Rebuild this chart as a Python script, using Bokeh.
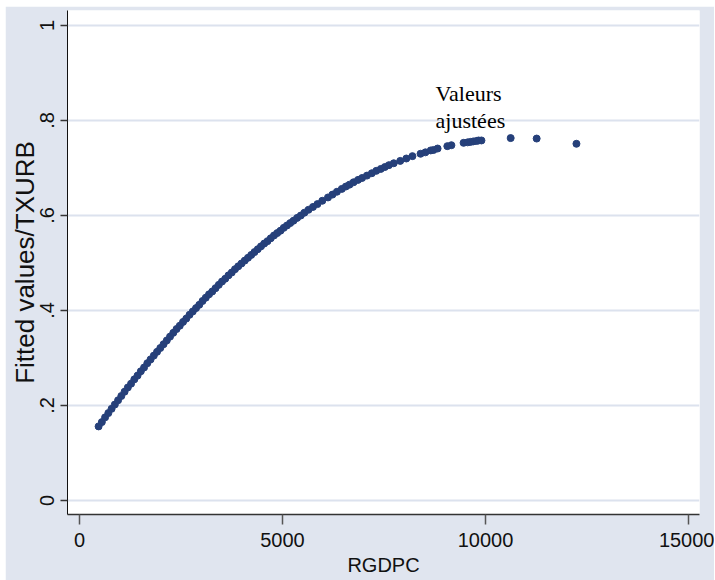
from bokeh.plotting import figure
from bokeh.models import Range1d, FixedTicker, ColumnDataSource
from bokeh.embed import file_html
from bokeh.resources import INLINE
from bokeh.core.properties import value

# ---- data ----
rgdpc = [470, 550, 630, 710, 790, 870, 950, 1030, 1110, 1190, 1270, 1350, 1430, 1510,
         1590, 1670, 1750, 1830, 1910, 1990, 2070, 2150, 2230, 2310, 2390, 2470, 2550,
         2630, 2710, 2790, 2870, 2950, 3030, 3110, 3190, 3270, 3350, 3430, 3510, 3590,
         3670, 3750, 3830, 3910, 3990, 4070, 4150, 4230, 4310, 4390, 4470, 4550, 4630,
         4710, 4790, 4870, 4950, 5030, 5110, 5190, 5270, 5360, 5450, 5540, 5640, 5750,
         5860, 5980, 6120, 6230, 6340, 6460, 6560, 6650, 6750, 6860, 6960, 7080, 7200,
         7310, 7420, 7520, 7620, 7740, 7900, 8050, 8200, 8400, 8520, 8650, 8720, 8820,
         9060, 9160, 9460, 9560, 9630, 9700, 9780, 9830, 9900, 10620, 11260, 12240]
fitted = [0.156, 0.165, 0.175, 0.184, 0.193, 0.202, 0.211, 0.220, 0.229, 0.238, 0.246,
          0.255, 0.263, 0.272, 0.280, 0.289, 0.297, 0.305, 0.313, 0.321, 0.329, 0.337,
          0.345, 0.353, 0.361, 0.368, 0.376, 0.383, 0.391, 0.398, 0.405, 0.412, 0.420,
          0.427, 0.434, 0.440, 0.447, 0.454, 0.461, 0.467, 0.474, 0.480, 0.487, 0.493,
          0.499, 0.505, 0.511, 0.517, 0.523, 0.529, 0.535, 0.541, 0.546, 0.552, 0.558,
          0.563, 0.568, 0.574, 0.579, 0.584, 0.589, 0.595, 0.600, 0.606, 0.612, 0.618,
          0.624, 0.631, 0.638, 0.644, 0.650, 0.656, 0.661, 0.665, 0.670, 0.675, 0.679,
          0.684, 0.689, 0.694, 0.698, 0.702, 0.706, 0.710, 0.715, 0.720, 0.725, 0.730,
          0.733, 0.737, 0.738, 0.741, 0.746, 0.748, 0.753, 0.754, 0.755, 0.756, 0.757,
          0.758, 0.758, 0.763, 0.762, 0.751]

x_ticks = [0, 5000, 10000, 15000]
y_ticks = [0, 0.2, 0.4, 0.6, 0.8, 1]
y_tick_labels = ["0", ".2", ".4", ".6", ".8", "1"]

note_x = [8770, 8770]
note_y = [0.857, 0.800]
note_text = ["Valeurs", "ajustées"]

x_title = "RGDPC"
y_title = "Fitted values/TXURB"

# ---- styling ----
BG = "#E0E5EF"
GRID = "#DCE2EE"
DOT = "#26407A"
SANS = "Liberation Sans"

src = ColumnDataSource(data=dict(x=rgdpc, y=fitted))

p = figure(width=709, height=574, margin=(6, 1, 0, 5),
           x_range=Range1d(-296, 15271), y_range=Range1d(-0.0295, 1.0316),
           output_backend="svg", toolbar_location=None,
           min_border_left=62, min_border_right=15, min_border_top=4, min_border_bottom=66,
           background_fill_color="white", border_fill_color=BG, outline_line_color=None)

p.scatter(x="x", y="y", source=src, size=7, fill_color=DOT, line_color=DOT)

p.text(x=note_x, y=note_y, text=note_text, text_font=value("Liberation Serif"),
       text_font_size="22px", text_color="black", text_baseline="alphabetic",
       text_align="left")

p.xgrid.visible = False
p.ygrid.grid_line_color = GRID
p.ygrid.grid_line_width = 2

xa = p.xaxis[0]
xa.ticker = FixedTicker(ticks=x_ticks)
xa.axis_line_color = "#333333"
xa.axis_line_width = 1.5
xa.major_tick_in = 0
xa.major_tick_out = 10
xa.major_tick_line_color = "#555555"
xa.major_tick_line_width = 1.5
xa.minor_tick_line_color = None
xa.major_label_text_font = SANS
xa.major_label_text_font_size = "20px"
xa.major_label_text_color = "#111111"
xa.major_label_standoff = 8
xa.axis_label = x_title
xa.axis_label_text_font = SANS
xa.axis_label_text_font_size = "20px"
xa.axis_label_text_font_style = "normal"
xa.axis_label_text_color = "#111111"
xa.axis_label_standoff = 4

ya = p.yaxis[0]
ya.ticker = FixedTicker(ticks=y_ticks)
ya.major_label_overrides = {t: l for t, l in zip(y_ticks, y_tick_labels)}
ya.major_label_orientation = "vertical"
ya.axis_line_color = "#111111"
ya.axis_line_width = 1
ya.major_tick_in = 0
ya.major_tick_out = 7
ya.major_tick_line_color = "#333333"
ya.major_tick_line_width = 1.5
ya.minor_tick_line_color = None
ya.major_label_text_font = SANS
ya.major_label_text_font_size = "20px"
ya.major_label_text_color = "#111111"
ya.major_label_standoff = 6
ya.axis_label = y_title
ya.axis_label_text_font = SANS
ya.axis_label_text_font_size = "26px"
ya.axis_label_text_font_style = "normal"
ya.axis_label_text_color = "#111111"
ya.axis_label_standoff = -2

open("out.html", "w").write(file_html(p, INLINE))
